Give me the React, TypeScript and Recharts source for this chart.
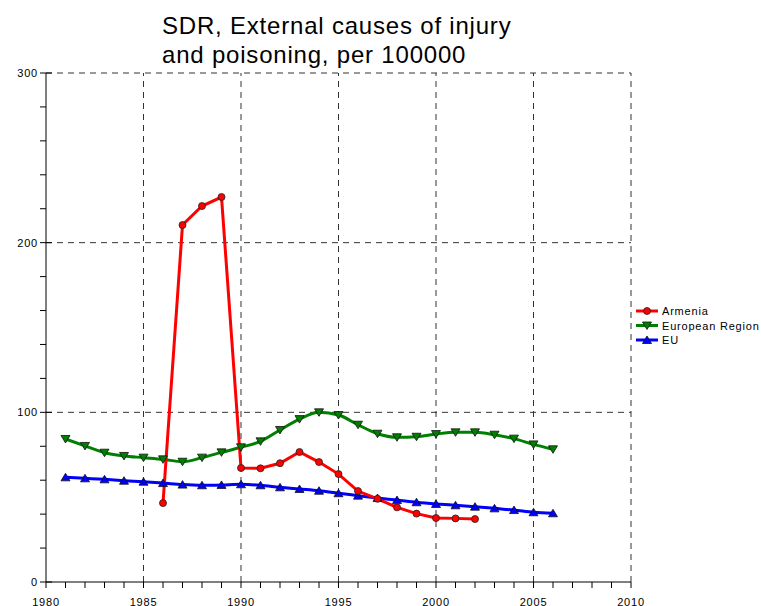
import React from "react";
import { LineChart, Line, XAxis, YAxis, ReferenceLine } from "recharts";

// years for the EU / European Region series
const regionYears = [1981, 1982, 1983, 1984, 1985, 1986, 1987, 1988, 1989, 1990, 1991, 1992, 1993, 1994, 1995, 1996, 1997, 1998, 1999, 2000, 2001, 2002, 2003, 2004, 2005, 2006];
const europeanRegion = [84.3, 80.2, 76.2, 74.3, 73.3, 72.3, 70.9, 73.3, 76.4, 79.4, 82.9, 89.6, 96, 100, 98.4, 92.7, 87.4, 85.3, 85.6, 87.2, 88.2, 88.2, 86.8, 84.5, 81.1, 78.2];
const eu = [61.7, 61.1, 60.5, 59.7, 59.1, 58.3, 57.4, 57.0, 57.2, 57.6, 57.0, 55.8, 54.8, 53.8, 52.3, 50.9, 49.5, 48.3, 47.0, 46.0, 45.2, 44.4, 43.4, 42.4, 41.1, 40.5];

const armeniaYears = [1986, 1987, 1988, 1989, 1990, 1991, 1992, 1993, 1994, 1995, 1996, 1997, 1998, 1999, 2000, 2001, 2002];
const armenia = [46.5, 210.4, 221.6, 226.9, 67.2, 67, 70, 76.6, 70.7, 63.6, 53.6, 49, 44, 40.3, 37.7, 37.5, 37.1];

const xTicks = [1980, 1981, 1982, 1983, 1984, 1985, 1986, 1987, 1988, 1989, 1990, 1991, 1992, 1993, 1994, 1995, 1996, 1997, 1998, 1999, 2000, 2001, 2002, 2003, 2004, 2005, 2006, 2007, 2008, 2009, 2010];
const xGrid = [1985, 1990, 1995, 2000, 2005, 2010];
const yTicks = [0, 20, 40, 60, 80, 100, 120, 140, 160, 180, 200, 220, 240, 260, 280, 300];
const yGrid = [100, 200, 300];

const titleLines = ["SDR, External causes of injury", "and poisoning, per 100000"];

const FONT = "'Liberation Sans', Arial, sans-serif";
const SPACING = 0.8;

const armeniaData = armeniaYears.map((year, i) => ({ year, value: armenia[i] }));
const regionData = regionYears.map((year, i) => ({ year, value: europeanRegion[i] }));
const euData = regionYears.map((year, i) => ({ year, value: eu[i] }));

const CircleDot = (props: any) => {
  const { cx, cy } = props;
  if (cx == null || cy == null) return null;
  return <circle cx={cx} cy={cy} r={3.5} fill="#ff0000" stroke="#222" strokeWidth={0.8} />;
};

const TriDown = (props: any) => {
  const { cx, cy } = props;
  if (cx == null || cy == null) return null;
  return (
    <polygon
      points={`${cx - 4.5},${cy - 3.5} ${cx + 4.5},${cy - 3.5} ${cx},${cy + 4}`}
      fill="#008000"
      stroke="#111"
      strokeWidth={0.8}
    />
  );
};

const TriUp = (props: any) => {
  const { cx, cy } = props;
  if (cx == null || cy == null) return null;
  return (
    <polygon
      points={`${cx - 4.5},${cy + 3.5} ${cx + 4.5},${cy + 3.5} ${cx},${cy - 4}`}
      fill="#0000ff"
      stroke="#111"
      strokeWidth={0.8}
    />
  );
};

const XTick = (props: any) => {
  const { x, y, payload } = props;
  if (payload.value % 5 !== 0) return null;
  return (
    <text x={x} y={y} dy={16} textAnchor="middle" fontSize={11} letterSpacing={SPACING} fontFamily={FONT} fill="#000">
      {payload.value}
    </text>
  );
};

const YTick = (props: any) => {
  const { x, y, payload } = props;
  if (payload.value % 100 !== 0) return null;
  return (
    <g>
      {/* major ticks cross the axis */}
      <line x1={x + 8} x2={x + 14} y1={y} y2={y} stroke="#000" />
      <text x={x} y={y} dy={4} textAnchor="end" fontSize={11} letterSpacing={SPACING} fontFamily={FONT} fill="#000">
        {payload.value}
      </text>
    </g>
  );
};

const legendItems = [
  { name: "Armenia", color: "#ff0000", marker: "circle" },
  { name: "European Region", color: "#008000", marker: "down" },
  { name: "EU", color: "#0000ff", marker: "up" },
];

function LegendBox() {
  return (
    <svg width={127} height={48} style={{ position: "absolute", left: 634, top: 303 }}>
      {legendItems.map((item, i) => {
        const cy = 8 + i * 14.5;
        const cx = 13;
        return (
          <g key={item.name}>
            <line x1={2} x2={24} y1={cy} y2={cy} stroke={item.color} strokeWidth={3} />
            {item.marker === "circle" && <CircleDot cx={cx} cy={cy} />}
            {item.marker === "down" && <TriDown cx={cx} cy={cy} />}
            {item.marker === "up" && <TriUp cx={cx} cy={cy} />}
            <text x={28} y={cy + 4} fontSize={11} letterSpacing={SPACING} fontFamily={FONT} fill="#000">
              {item.name}
            </text>
          </g>
        );
      })}
    </svg>
  );
}

export default function App() {
  return (
    <div style={{ position: "absolute", left: 0, top: 0, width: 761, height: 606, background: "#fff", overflow: "hidden" }}>
      <div
        style={{
          position: "absolute",
          left: 162,
          top: 11,
          fontFamily: FONT,
          fontSize: 24,
          letterSpacing: SPACING,
          lineHeight: "29px",
          color: "#000",
          whiteSpace: "nowrap",
        }}
      >
        {titleLines.map((t) => (
          <div key={t}>{t}</div>
        ))}
      </div>
      <LineChart width={761} height={606} margin={{ top: 73, right: 130, bottom: 0, left: 0 }}>
        <XAxis
          dataKey="year"
          type="number"
          domain={[1980, 2010]}
          ticks={xTicks}
          interval={0}
          tick={<XTick />}
          tickSize={6}
          height={24}
          stroke="#000"
          allowDuplicatedCategory={false}
        />
        <YAxis
          type="number"
          domain={[0, 300]}
          ticks={yTicks}
          interval={0}
          tick={<YTick />}
          tickSize={6}
          width={46}
          stroke="#000"
        />
        {yGrid.map((v) => (
          <ReferenceLine key={`h${v}`} y={v} stroke="#333" strokeDasharray="6 5" />
        ))}
        {xGrid.map((v) => (
          <ReferenceLine key={`v${v}`} x={v} stroke="#333" strokeDasharray="6 5" />
        ))}
        <Line
          data={regionData}
          dataKey="value"
          type="monotone"
          stroke="#008000"
          strokeWidth={3}
          dot={<TriDown />}
          isAnimationActive={false}
        />
        <Line
          data={euData}
          dataKey="value"
          type="monotone"
          stroke="#0000ff"
          strokeWidth={3}
          dot={<TriUp />}
          isAnimationActive={false}
        />
        <Line
          data={armeniaData}
          dataKey="value"
          type="linear"
          stroke="#ff0000"
          strokeWidth={3}
          dot={<CircleDot />}
          isAnimationActive={false}
        />
      </LineChart>
      <LegendBox />
    </div>
  );
}
